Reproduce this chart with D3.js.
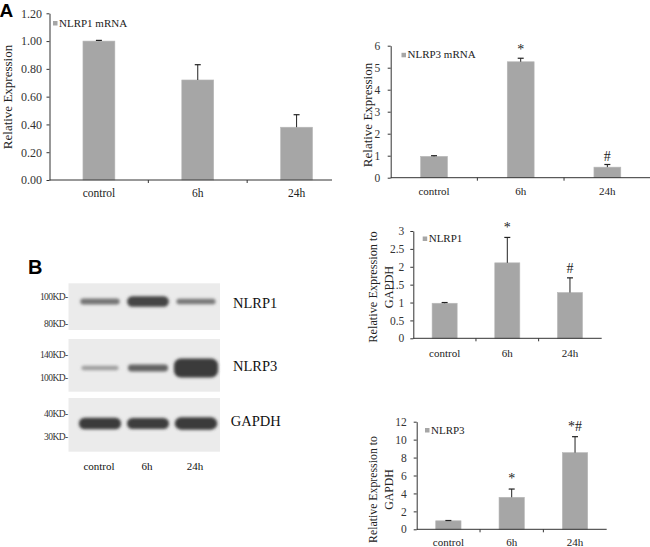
<!DOCTYPE html>
<html><head><meta charset="utf-8">
<script src="https://cdn.jsdelivr.net/npm/d3@7"></script>
<style>
html,body{margin:0;padding:0;background:#fff;}
svg{display:block;}
text{font-family:"Liberation Serif","Times New Roman",serif;fill:#222;}
text.letter{font-family:"Liberation Sans",Arial,sans-serif;font-weight:bold;fill:#000;}
</style></head>
<body>
<svg id="fig" width="650" height="547"></svg>
<script>
// ---------- data ----------
const categories = ["control", "6h", "24h"];

const nlrp1mRNA    = [1.00, 0.72, 0.38];
const nlrp1mRNAErr = [0.005, 0.11, 0.09];
const nlrp1mRNASig = ["", "", ""];
const nlrp1mRNATicks = [0, 0.2, 0.4, 0.6, 0.8, 1.0, 1.2];

const nlrp3mRNA    = [0.97, 5.27, 0.48];
const nlrp3mRNAErr = [0.03, 0.16, 0.12];
const nlrp3mRNASig = ["", "*", "#"];
const nlrp3mRNATicks = [0, 1, 2, 3, 4, 5, 6];

const nlrp1Prot    = [0.98, 2.11, 1.28];
const nlrp1ProtErr = [0.02, 0.71, 0.41];
const nlrp1ProtSig = ["", "*", "#"];
const nlrp1ProtTicks = [0, 0.5, 1, 1.5, 2, 2.5, 3];

const nlrp3Prot    = [0.95, 3.57, 8.55];
const nlrp3ProtErr = [0.03, 0.92, 1.78];
const nlrp3ProtSig = ["", "*", "*#"];
const nlrp3ProtTicks = [0, 2, 4, 6, 8, 10, 12];

// western blot (relative band density per lane)
const blotProteins = ["NLRP1", "NLRP3", "GAPDH"];
const nlrp1Blot = [0.50, 0.75, 0.48];
const nlrp3Blot = [0.28, 0.58, 1.00];
const gapdhBlot = [0.80, 0.78, 0.82];
const markerLabels = [["100KD", "80KD"], ["140KD", "100KD"], ["40KD", "30KD"]];

// ---------- drawing ----------
const svg = d3.select("#fig");
const BAR = "#a6a6a6";

function barChart(cfg) {
  const g = svg.append("g");
  const x = d3.scaleBand().domain(categories).range([cfg.x0, cfg.x1]).padding(0);
  const y = d3.scaleLinear().domain([0, cfg.max]).range([cfg.y0, cfg.yTop]);
  const bw = x.bandwidth() * cfg.barFrac;

  g.selectAll("rect.bar").data(cfg.vals).join("rect")
    .attr("x", (d, i) => x(categories[i]) + (x.bandwidth() - bw) / 2)
    .attr("y", d => y(d))
    .attr("width", bw)
    .attr("height", d => y(0) - y(d))
    .attr("fill", BAR).attr("stroke", "#b8b8b8").attr("stroke-width", 0.6);

  const cx = i => x(categories[i]) + x.bandwidth() / 2;
  cfg.vals.forEach((v, i) => {
    const top = y(v + cfg.errs[i]);
    g.append("line").attr("x1", cx(i)).attr("x2", cx(i))
      .attr("y1", y(v)).attr("y2", top).attr("stroke", "#222").attr("stroke-width", 1);
    g.append("line").attr("x1", cx(i) - 3).attr("x2", cx(i) + 3)
      .attr("y1", top).attr("y2", top).attr("stroke", "#222").attr("stroke-width", 1.2);
    if (cfg.sig[i]) {
      g.append("text").attr("x", cx(i)).attr("y", top - cfg.sigGap)
        .attr("text-anchor", "middle").attr("font-size", 14).text(cfg.sig[i]);
    }
  });

  const ya = g.append("g").attr("transform", `translate(${cfg.x0},0)`)
    .call(d3.axisLeft(y).tickValues(cfg.ticks).tickFormat(cfg.fmt)
      .tickSize(3).tickSizeOuter(0).tickPadding(cfg.tickPad));
  ya.selectAll("path,line").attr("stroke", "#333");
  ya.selectAll("text").attr("font-size", cfg.tickFont).style("fill", "#333");

  const xa = g.append("g").attr("transform", `translate(0,${cfg.y0})`)
    .call(d3.axisBottom(x).tickSize(0).tickPadding(cfg.xPad));
  xa.select("path").remove();
  xa.selectAll("text").attr("font-size", cfg.xFont);
  g.append("line").attr("x1", cfg.x0).attr("x2", cfg.axisEnd)
    .attr("y1", cfg.y0).attr("y2", cfg.y0).attr("stroke", "#333").attr("stroke-width", 1);
  categories.slice(1).forEach(c => {
    g.append("line").attr("x1", x(c)).attr("x2", x(c))
      .attr("y1", cfg.y0).attr("y2", cfg.y0 + 3).attr("stroke", "#333");
  });

  g.append("rect").attr("x", cfg.legX).attr("y", cfg.legY - 5.5)
    .attr("width", 4.5).attr("height", 4.5).attr("fill", BAR);
  g.append("text").attr("x", cfg.legX + 6).attr("y", cfg.legY)
    .attr("font-size", 11).text(cfg.legend);

  cfg.ylabel.forEach((t, k) => {
    g.append("text")
      .attr("transform", `translate(${cfg.ylabX[k]},${cfg.ylabCY}) rotate(-90)`)
      .attr("text-anchor", "middle").attr("font-size", cfg.ylabFont).text(t);
  });
}

barChart({
  vals: nlrp1mRNA, errs: nlrp1mRNAErr, sig: nlrp1mRNASig, ticks: nlrp1mRNATicks,
  fmt: d3.format(".2f"), max: 1.2,
  x0: 49.5, x1: 346, axisEnd: 332, y0: 180, yTop: 13.3, barFrac: 0.323,
  tickPad: 4.5, tickFont: 12, xPad: 8.5, xFont: 11.5, sigGap: 5,
  legend: "NLRP1 mRNA", legX: 53, legY: 26.5,
  ylabel: ["Relative Expression"], ylabX: [12], ylabCY: 97, ylabFont: 13
});

barChart({
  vals: nlrp3mRNA, errs: nlrp3mRNAErr, sig: nlrp3mRNASig, ticks: nlrp3mRNATicks,
  fmt: d3.format("d"), max: 6,
  x0: 390.7, x1: 650.7, axisEnd: 650, y0: 177.7, yTop: 45.7, barFrac: 0.31,
  tickPad: 7.5, tickFont: 11.5, xPad: 9.5, xFont: 11, sigGap: 4,
  legend: "NLRP3 mRNA", legX: 401.5, legY: 58.3,
  ylabel: ["Relative Expression"], ylabX: [372], ylabCY: 115, ylabFont: 13
});

barChart({
  vals: nlrp1Prot, errs: nlrp1ProtErr, sig: nlrp1ProtSig, ticks: nlrp1ProtTicks,
  fmt: d => String(d), max: 3,
  x0: 413.3, x1: 601.3, axisEnd: 601.7, y0: 338.3, yTop: 231, barFrac: 0.4,
  tickPad: 6, tickFont: 11.5, xPad: 10.5, xFont: 11, sigGap: 5,
  legend: "NLRP1", legX: 422.7, legY: 242,
  ylabel: ["Relative Expression to", "GAPDH"], ylabX: [377, 393], ylabCY: 287, ylabFont: 12.3
});

barChart({
  vals: nlrp3Prot, errs: nlrp3ProtErr, sig: nlrp3ProtSig, ticks: nlrp3ProtTicks,
  fmt: d3.format("d"), max: 12,
  x0: 416.7, x1: 606.7, axisEnd: 606.7, y0: 529.3, yTop: 421.7, barFrac: 0.4,
  tickPad: 7, tickFont: 11.5, xPad: 9, xFont: 11, sigGap: 6,
  legend: "NLRP3", legX: 425, legY: 433.5,
  ylabel: ["Relative Expression to", "GAPDH"], ylabX: [377, 393], ylabCY: 489.5, ylabFont: 11.8
});

// panel letters
svg.append("text").attr("class", "letter").attr("x", -0.5).attr("y", 17)
  .attr("font-size", 19).text("A");
svg.append("text").attr("class", "letter").attr("x", 28).attr("y", 273.5)
  .attr("font-size", 20).text("B");

// ---------- western blot ----------
const defs = svg.append("defs");
defs.append("filter").attr("id", "blur").attr("x", "-20%").attr("y", "-80%")
  .attr("width", "140%").attr("height", "260%")
  .append("feGaussianBlur").attr("stdDeviation", 1.5);

const lane = d3.scaleBand().domain(categories).range([76, 220]).padding(0);
const shade = d3.scaleLinear().domain([0, 1]).range([0, 1]).clamp(true);
const blots = [
  { dens: nlrp1Blot, top: 283.3, bottom: 330, bandY: 301.5, labY: 307.5, markY: [297, 323.3] },
  { dens: nlrp3Blot, top: 339, bottom: 391.7, bandY: 368, labY: 371, markY: [354.3, 377.3] },
  { dens: gapdhBlot, top: 398, bottom: 451.7, bandY: 423.5, labY: 426, markY: [414, 436.7] }
];
blots.forEach((b, k) => {
  const g = svg.append("g");
  g.append("rect").attr("x", 68.5).attr("y", b.top).attr("width", 151.5)
    .attr("height", b.bottom - b.top).attr("fill", "#ebebeb");
  const bands = g.append("g").attr("filter", "url(#blur)");
  b.dens.forEach((d, i) => {
    const w = lane.bandwidth() * (0.72 + 0.2 * d);
    const h = 4 + 15 * Math.pow(d, 3);
    const cx = lane(categories[i]) + lane.bandwidth() / 2;
    bands.append("rect").attr("x", cx - w / 2).attr("y", b.bandY - h / 2)
      .attr("width", w).attr("height", h).attr("rx", Math.min(h / 2, 7))
      .attr("fill", d3.interpolateRgb("#d4d4d4", "#3a3a3a")(shade(d * 1.25)));
  });
  g.append("text").attr("x", k === 2 ? 230.7 : 233).attr("y", b.labY)
    .attr("font-size", 14.5).style("fill", "#111").text(blotProteins[k]);
  markerLabels[k].forEach((m, j) => {
    g.append("text").attr("x", 67.5).attr("y", b.markY[j] + 3.3)
      .attr("text-anchor", "end").attr("font-size", 9.5).attr("letter-spacing", -0.6)
      .style("fill", "#333").text(m + "-");
  });
});
categories.forEach(c => {
  svg.append("text").attr("x", lane(c) + lane.bandwidth() / 2 - 1).attr("y", 470)
    .attr("text-anchor", "middle").attr("font-size", 11).style("fill", "#111").text(c);
});
</script>
</body></html>
